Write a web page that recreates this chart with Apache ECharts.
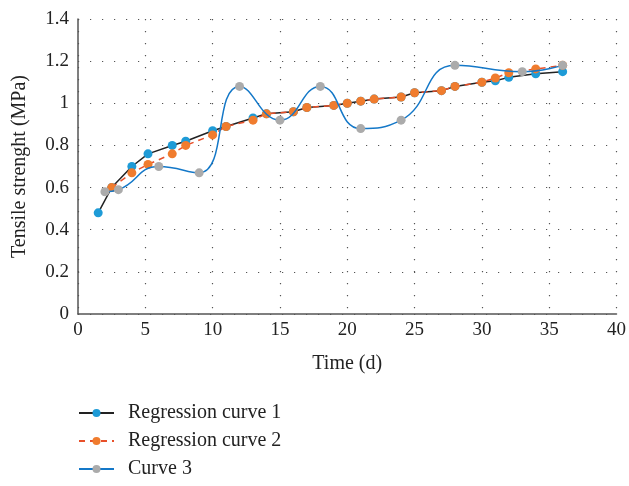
<!DOCTYPE html>
<html><head><meta charset="utf-8">
<script src="https://cdn.jsdelivr.net/npm/echarts@6/dist/echarts.min.js"></script>
<style>html,body{margin:0;padding:0;background:#fff}#c{width:629px;height:486px}</style>
</head><body><div id="c"></div>
<script>
const xTicks = [0, 5, 10, 15, 20, 25, 30, 35, 40];
const yTicks = [0, 0.2, 0.4, 0.6, 0.8, 1, 1.2, 1.4];
const names = ['Regression curve 1', 'Regression curve 2', 'Curve 3'];
const s1x = [1.5, 2.5, 4, 5.2, 7, 8, 10, 11, 13, 14, 16, 17, 19, 20, 21, 22, 24, 25, 27, 28, 30, 31, 32, 34, 36];
const s1y = [0.48, 0.60, 0.70, 0.76, 0.80, 0.82, 0.87, 0.89, 0.93, 0.95, 0.96, 0.98, 0.99, 1.00, 1.01, 1.02, 1.03, 1.05, 1.06, 1.08, 1.10, 1.107, 1.123, 1.14, 1.15];
const s2x = [2.5, 4, 5.2, 7, 8, 10, 11, 13, 14, 16, 17, 19, 20, 21, 22, 24, 25, 27, 28, 30, 31, 32, 34, 36];
const s2y = [0.60, 0.67, 0.71, 0.76, 0.80, 0.85, 0.89, 0.92, 0.95, 0.96, 0.98, 0.99, 1.00, 1.01, 1.02, 1.03, 1.05, 1.06, 1.08, 1.10, 1.12, 1.145, 1.163, 1.18];
const s3x = [2, 3, 6, 9, 12, 15, 18, 21, 24, 28, 33, 36];
const s3y = [0.58, 0.59, 0.70, 0.67, 1.08, 0.92, 1.08, 0.88, 0.92, 1.18, 1.15, 1.18];

const pair = (xs, ys) => xs.map((x, i) => [x, ys[i]]);
const font = 'Liberation Serif';
const dotted = { color: '#555', width: 1.2, type: [1.2, 10.8] };

const chart = echarts.init(document.getElementById('c'), null, { renderer: 'canvas' });
chart.setOption({
  animation: false,
  backgroundColor: '#fff',
  grid: { left: 78, right: 12, top: 19, bottom: 172 },
  xAxis: {
    type: 'value', min: xTicks[0], max: xTicks[xTicks.length - 1], interval: 5,
    name: 'Time (d)', nameLocation: 'middle', nameGap: 40,
    nameTextStyle: { fontFamily: font, fontSize: 20, color: '#222' },
    axisLine: { lineStyle: { color: '#555', width: 1.5 } },
    axisTick: { show: false },
    axisLabel: { fontFamily: font, fontSize: 19, color: '#222', margin: 7 },
    splitLine: { show: true, lineStyle: dotted }
  },
  yAxis: {
    type: 'value', min: yTicks[0], max: yTicks[yTicks.length - 1], interval: 0.2,
    name: 'Tensile strenght (MPa)', nameLocation: 'middle', nameGap: 48,
    nameTextStyle: { fontFamily: font, fontSize: 20, color: '#222' },
    axisLine: { show: true, lineStyle: { color: '#555', width: 1.5 } },
    axisTick: { show: false },
    axisLabel: { fontFamily: font, fontSize: 19, color: '#222', margin: 9 },
    splitLine: { show: true, lineStyle: dotted }
  },
  legend: {
    orient: 'vertical', left: 73, top: 398, itemWidth: 35, itemHeight: 10, itemGap: 8,
    textStyle: { fontFamily: font, fontSize: 20, color: '#222', padding: [0, 0, 0, 9] },
    data: names
  },
  series: [
    {
      name: names[0], type: 'line', data: pair(s1x, s1y),
      symbol: 'circle', symbolSize: 9, z: 3,
      lineStyle: { color: '#222', width: 1.5 },
      itemStyle: { color: '#1E9BD7' }
    },
    {
      name: names[1], type: 'line', data: pair(s2x, s2y),
      symbol: 'circle', symbolSize: 9, z: 4,
      lineStyle: { color: '#E8502A', width: 1.5, type: [6, 5] },
      itemStyle: { color: '#F07C2E' }
    },
    {
      name: names[2], type: 'line', data: pair(s3x, s3y), smooth: 0.5,
      symbol: 'circle', symbolSize: 9, z: 5,
      lineStyle: { color: '#1478C8', width: 1.5 },
      itemStyle: { color: '#ABABAB' }
    }
  ]
});
</script></body></html>
